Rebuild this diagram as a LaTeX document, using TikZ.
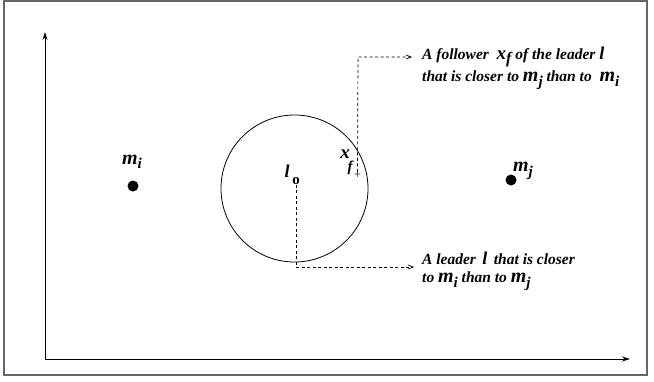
\documentclass[tikz,border=0pt]{standalone}
\usepackage{fontspec}
\setmainfont{Liberation Serif}
\usetikzlibrary{arrows.meta}
\newcommand{\txtsz}{\fontsize{15.5}{17}\selectfont}
\newcommand{\mlet}[1]{{\fontsize{20}{20}\selectfont m\raisebox{-4.5pt}{\fontsize{15}{15}\selectfont #1}}}
\begin{document}
\begin{tikzpicture}[x=1pt,y=-1pt,
  lbl/.style={font=\bfseries\itshape\txtsz, anchor=west, inner sep=0pt},
  mlbl/.style={font=\bfseries\itshape, inner sep=0pt},
  dasharrow/.style={dash pattern=on 3pt off 2.5pt, line width=0.7pt, -{Straight Barb[length=5pt,width=4pt]}},
  axis/.style={line width=0.8pt, -{Stealth[length=8pt,width=5pt]}},
  dot/.style={circle, fill=black, minimum size=11pt, inner sep=0pt}]
\useasboundingbox (0,0) rectangle (654,381);
\draw[gray!80!black, line width=1.2pt] (4,1) rectangle (647,375);
% axes
\coordinate (o) at (45,359);
\coordinate (ytop) at (45,32);
\coordinate (xend) at (630,359);
\draw[axis] (o) -- (ytop);
\draw[axis] (o) -- (xend);
% circle
\node (circ) [circle, draw, line width=0.8pt, minimum size=147pt, inner sep=0pt] at (294.5,188.5) {};
% leader
\node (lo) [font=\bfseries\fontsize{15}{15}\selectfont, inner sep=0pt] at (296,181) {o};
\node (l) [mlbl, font=\bfseries\itshape\fontsize{18}{18}\selectfont] at (287,171) {l};
% follower
\node (plus) [font=\fontsize{12}{12}\selectfont, inner sep=0pt] at (357.5,175.5) {+};
\node (xf) [font=\bfseries\itshape\fontsize{19}{19}\selectfont, inner sep=0pt] at (345,154) {x};
\node (xfsub) [font=\bfseries\itshape\fontsize{15}{15}\selectfont, inner sep=0pt] at (350,168) {f};
% points
\node (mi) [dot] at (133,186) {};
\node (milbl) [mlbl] at (132,162) {\mlet{i}};
\node (mj) [dot] at (511,180) {};
\node (mjlbl) [mlbl] at (523,171) {\mlet{j}};
% texts
\node (t1a) [lbl] at (422,57) {A follower \ {\fontsize{19}{19}\selectfont x\raisebox{-4.5pt}{\fontsize{16}{16}\selectfont f}} of the leader {\fontsize{18}{18}\selectfont l}};
\node (t1b) [lbl] at (422,80) {that is closer to \mlet{j} than to \ \mlet{i}};
\node (t2a) [lbl] at (422,258) {A leader \,{\fontsize{18}{18}\selectfont l}\, that is closer};
\node (t2b) [lbl] at (422,281) {to \mlet{i} than to \mlet{j}};
% connectors
\coordinate (c1) at (358,57);
\coordinate (e1) at (412,57);
\coordinate (c2) at (296,267);
\coordinate (e2) at (414,267);
\draw[dasharrow] (plus.north) -- (c1) -- (e1);
\draw[dasharrow] (lo.south) -- (c2) -- (e2);
\end{tikzpicture}
\end{document}
